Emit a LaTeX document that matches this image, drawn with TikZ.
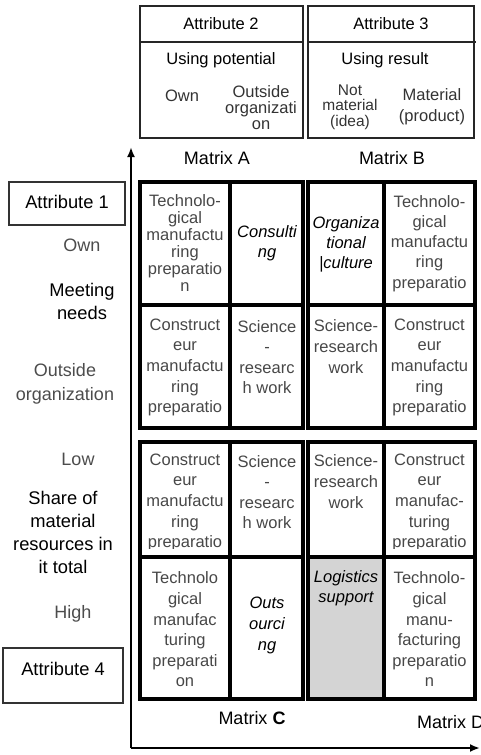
\documentclass[tikz,border=0pt]{standalone}
\usepackage{fontspec}
\setmainfont{Liberation Sans}
\usetikzlibrary{arrows.meta}
\tikzset{
  cellbox/.style={draw=black, line width=3.6pt, inner sep=0pt, outer sep=0pt, rectangle},
  hdrbox/.style={draw=black!85, line width=1.3pt},
  attrbox/.style={draw=black!80, line width=1.1pt, inner sep=0pt, outer sep=0pt, rectangle},
  axisline/.style={draw=black, line width=2.2pt, -{Latex[length=10pt,width=8pt]}},
  ctext/.style={font=\fontsize{16.5}{20.6}\selectfont, align=center, text=black!72, inner sep=0pt},
  citext/.style={font=\fontsize{16.5}{20}\selectfont\itshape, align=center, text=black, inner sep=0pt},
  htext/.style={font=\fontsize{16.5}{16}\selectfont, align=center, text=black!80, inner sep=0pt},
  htitle/.style={font=\fontsize{16.5}{16}\selectfont, align=center, text=black, inner sep=0pt},
  ltext/.style={font=\fontsize{18}{23}\selectfont, align=center, text=black!70, inner sep=0pt},
  lbold/.style={font=\fontsize{18.3}{23}\selectfont, align=center, text=black, inner sep=0pt},
  mtitle/.style={font=\fontsize{18}{20}\selectfont, text=black, inner sep=0pt},
}
\begin{document}
\begin{tikzpicture}[x=1pt,y=-1pt]
\useasboundingbox (0,0) rectangle (480,755);

% ---------- header boxes ----------
\draw[hdrbox] (140,6) rectangle (303,138);
\draw[hdrbox] (140,42) -- (303,42);
\draw[hdrbox] (308,6) rectangle (474,138);
\draw[hdrbox] (308,42) -- (476,42);
\node[htitle] (att2) at (221,24) {Attribute 2};
\node[htitle] (att3) at (391,24) {Attribute 3};
\node[htitle] (usepot) at (221,60) {Using potential};
\node[htitle] (useres) at (385,60) {Using result};
\node[htext] (hown) at (182,96) {Own};
\node[htext, font=\fontsize{16.5}{16}\selectfont] (hout) at (261,108) {Outside\\organizati\\on};
\node[htext, font=\fontsize{15.5}{15.5}\selectfont] (hnot) at (350,107) {Not\\material\\(idea)};
\node[htext, font=\fontsize{16.5}{21}\selectfont] (hmat) at (432,106.5) {Material\\(product)};

% ---------- matrix titles ----------
\node[mtitle] (mA) at (217,158) {Matrix A};
\node[mtitle] (mB) at (392,158) {Matrix B};
\node[mtitle] (mC) at (252,718) {Matrix \textbf{C}};
\node[mtitle, anchor=west] (mD) at (417,722) {Matrix D};

% ---------- left labels ----------
\node[attrbox, minimum width=116pt, minimum height=43pt] (a1box) at (67,203.5) {};
\node[lbold] (a1) at (67,202) {Attribute 1};
\node[attrbox, minimum width=120pt, minimum height=55pt] (a4box) at (63,675.5) {};
\node[lbold] (a4) at (63,669) {Attribute 4};
\node[ltext] (lown) at (82,245) {Own};
\node[lbold] (lmeet) at (82,301.5) {Meeting\\needs};
\node[ltext, font=\fontsize{18}{24}\selectfont] (lout) at (65,384) {Outside\\organization};
\node[ltext] (llow) at (78,459) {Low};
\node[lbold, font=\fontsize{18.3}{22.8}\selectfont] (lshare) at (63,532.5) {Share of\\material\\resources in\\it total};
\node[ltext] (lhigh) at (73,614) {High};

% ---------- axes ----------
\coordinate (O) at (131,748);
\coordinate (Ytip) at (131,147);
\coordinate (Xtip) at (480,748);
\draw[axisline] (O) -- (Ytip);
\draw[axisline] (O) -- (Xtip);

% ---------- matrix cells ----------
% Matrix A
\node[cellbox, minimum width=90pt, minimum height=123pt] (A11) at (185,243.5) {};
\node[cellbox, minimum width=73pt, minimum height=123pt] (A12) at (266.5,243.5) {};
\node[cellbox, minimum width=90pt, minimum height=123pt] (A21) at (185,366.5) {};
\node[cellbox, minimum width=73pt, minimum height=123pt] (A22) at (266.5,366.5) {};
% Matrix B
\node[cellbox, minimum width=76pt, minimum height=123pt] (B11) at (346,243.5) {};
\node[cellbox, minimum width=91pt, minimum height=123pt] (B12) at (429.5,243.5) {};
\node[cellbox, minimum width=76pt, minimum height=123pt] (B21) at (346,366.5) {};
\node[cellbox, minimum width=91pt, minimum height=123pt] (B22) at (429.5,366.5) {};
% Matrix C
\node[cellbox, minimum width=90pt, minimum height=115pt] (C11) at (185,499.5) {};
\node[cellbox, minimum width=73pt, minimum height=115pt] (C12) at (266.5,499.5) {};
\node[cellbox, minimum width=90pt, minimum height=142pt] (C21) at (185,628) {};
\node[cellbox, minimum width=73pt, minimum height=142pt] (C22) at (266.5,628) {};
% Matrix D
\node[cellbox, minimum width=76pt, minimum height=115pt] (D11) at (346,499.5) {};
\node[cellbox, minimum width=91pt, minimum height=115pt] (D12) at (429.5,499.5) {};
\node[cellbox, fill=black!17, minimum width=76pt, minimum height=142pt] (D21) at (346,628) {};
\node[cellbox, minimum width=91pt, minimum height=142pt] (D22) at (429.5,628) {};

% ---------- cell texts ----------
\node[ctext, font=\fontsize{16.5}{17}\selectfont] (tA11) at (185,243) {Technolo-\\gical\\manufactu\\ring\\preparatio\\n};
\node[citext] (tA12) at (267,243) {Consulti\\ng};
\node[citext] (tB11) at (346,244) {Organiza\\tional\\|culture};
\node[ctext, font=\fontsize{16.5}{20.2}\selectfont] (tB12) at (429.5,243.5) {Technolo-\\gical\\manufactu\\ring\\preparatio};
\node[ctext] (tA21) at (185,367.5) {Construct\\eur\\manufactu\\ring\\preparatio};
\node[ctext] (tA22) at (267,357) {Science\\-\\researc\\h work};
\node[ctext] (tB21) at (346,346.5) {Science-\\research\\work};
\node[ctext] (tB22) at (429.5,367.5) {Construct\\eur\\manufactu\\ring\\preparatio};
\begin{scope}
\clip (142,444) rectangle (228,548);
\node[ctext] (tC11) at (185,502.5) {Construct\\eur\\manufactu\\ring\\preparatio};
\end{scope}
\node[ctext] (tC12) at (267,492) {Science\\-\\researc\\h work};
\node[ctext] (tD11) at (346,481.5) {Science-\\research\\work};
\begin{scope}
\clip (386,444) rectangle (473,548);
\node[ctext] (tD12) at (429.5,502.5) {Construct\\eur\\manufac-\\turing\\preparatio};
\end{scope}
\node[ctext] (tC21) at (185,629.5) {Technolo\\gical\\manufac\\turing\\preparati\\on};
\node[citext, font=\fontsize{16.5}{21}\selectfont\itshape] (tC22) at (267,625) {Outs\\ourci\\ng};
\node[citext] (tD21) at (346,588) {Logistics\\support};
\node[ctext] (tD22) at (429.5,629.5) {Technolo-\\gical\\manu-\\facturing\\preparatio\\n};
\end{tikzpicture}
\end{document}
